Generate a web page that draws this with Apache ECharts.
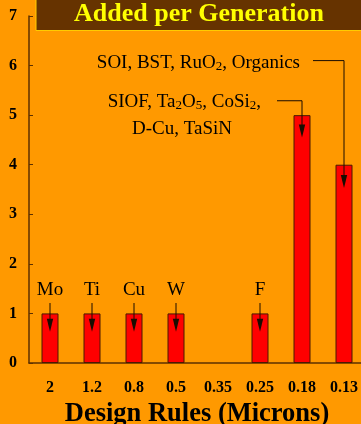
<!DOCTYPE html>
<html><head><meta charset="utf-8">
<script src="https://cdn.jsdelivr.net/npm/echarts@6/dist/echarts.min.js"></script>
<style>html,body{margin:0;padding:0;background:#ff9900;}#c{width:361px;height:424px;}</style>
</head><body><div id="c"></div>
<script>
const categories = ['2','1.2','0.8','0.5','0.35','0.25','0.18','0.13'];
const values = [1,1,1,1,0,1,5,4];
const elementLabels = ['Mo','Ti','Cu','W','','F','',''];
const titleText = 'Added per Generation';
const axisTitle = 'Design Rules (Microns)';
const yMin = 0, yMax = 7, yStep = 1;

const serif = '"Liberation Serif","Times New Roman",serif';
const chart = echarts.init(document.getElementById('c'), null, {renderer:'canvas'});
const axisColor = '#5c3000';
chart.setOption({
  backgroundColor: '#ff9900',
  animation: false,
  grid: {left: 29, right: -4, top: 16, bottom: 61, containLabel: false, outerBoundsMode: 'none'},
  xAxis: {
    type: 'category', data: categories,
    name: axisTitle, nameLocation: 'middle', nameGap: 38,
    nameTextStyle: {fontFamily: serif, fontWeight: 'bold', fontSize: 26.5, color: '#000'},
    axisLine: {lineStyle: {color: axisColor, width: 1.5}},
    axisTick: {inside: true, length: 4, lineStyle: {color: axisColor}},
    axisLabel: {fontFamily: serif, fontWeight: 'bold', fontSize: 16, color: '#000', margin: 17}
  },
  yAxis: {
    type: 'value', min: yMin, max: yMax, interval: yStep,
    axisLine: {show: true, lineStyle: {color: axisColor, width: 1.5}},
    axisTick: {show: true, inside: true, length: 4, lineStyle: {color: axisColor}},
    splitLine: {show: false},
    axisLabel: {fontFamily: serif, fontWeight: 'bold', fontSize: 16, color: '#000', margin: 12}
  },
  series: [{
    type: 'bar', barWidth: 17,
    data: values.map(v => v === 0 ? {value: v, itemStyle: {borderWidth: 0}} : v),
    itemStyle: {color: '#ff0000', borderColor: '#4a1a00', borderWidth: 1}
  }]
});

function px(i, v){ return chart.convertToPixel({seriesIndex:0}, [i, v]); }
const g = [];
const lineCol = '#1a0d00';
function arrow(x, y1, y2){
  g.push({type:'line', shape:{x1:x, y1:y1, x2:x, y2:y2-12}, style:{stroke:lineCol, lineWidth:1}, z:100});
  g.push({type:'polygon', shape:{points:[[x-3.2,y2-13],[x+3.2,y2-13],[x,y2]]}, style:{fill:lineCol}, z:100});
}
const fs = 19;
// short element labels
elementLabels.forEach((lab, i) => {
  if (!lab) return;
  const [cx, ly] = px(i, 1.47);
  g.push({type:'text', x:cx, y:ly, style:{text:lab, font:fs+'px '+serif, fill:'#000', align:'center', verticalAlign:'middle'}, z:100});
  const [, a1] = px(i, 1.21);
  const [, a2] = px(i, 0.63);
  arrow(cx, a1, a2);
});
// long annotation for 0.13
{
  const i = categories.indexOf('0.13');
  const [cx, ty] = px(i, 6.06);
  const [, endY] = px(i, 3.53);
  const sx = cx - 31;
  g.push({type:'polyline', shape:{points:[[sx, ty-2],[cx, ty-2],[cx, endY-12]]}, style:{stroke:lineCol, lineWidth:1, fill:null}, z:100});
  g.push({type:'polygon', shape:{points:[[cx-3.2,endY-13],[cx+3.2,endY-13],[cx,endY]]}, style:{fill:lineCol}, z:100});
  g.push({type:'text', x:sx-13, y:ty, style:{
    text:'SOI, BST, RuO{s|2}, Organics', font:fs+'px '+serif, fill:'#000', align:'right', verticalAlign:'middle',
    rich:{s:{fontSize:13, fontFamily:serif, padding:[7,0,0,0], fill:'#000'}}
  }, z:100});
}
// long annotation for 0.18
{
  const i = categories.indexOf('0.18');
  const [cx, ty] = px(i, 5.27);
  const [, endY] = px(i, 4.55);
  const sx = cx - 25;
  g.push({type:'polyline', shape:{points:[[sx, ty-1],[cx, ty-1],[cx, endY-12]]}, style:{stroke:lineCol, lineWidth:1, fill:null}, z:100});
  g.push({type:'polygon', shape:{points:[[cx-3.2,endY-13],[cx+3.2,endY-13],[cx,endY]]}, style:{fill:lineCol}, z:100});
  g.push({type:'text', x:sx-16, y:ty, style:{
    text:'SIOF, Ta{s|2}O{s|5}, CoSi{s|2},', font:fs+'px '+serif, fill:'#000', align:'right', verticalAlign:'middle',
    rich:{s:{fontSize:13, fontFamily:serif, padding:[7,0,0,0], fill:'#000'}}
  }, z:100});
  const [, t2] = px(i, 4.73);
  g.push({type:'text', x:sx-95, y:t2, style:{text:'D-Cu, TaSiN', font:fs+'px '+serif, fill:'#000', align:'center', verticalAlign:'middle'}, z:100});
}
// title box
g.push({type:'rect', shape:{x:36, y:-2, width:340, height:32.5}, style:{fill:'#663300', stroke:'#ffcc00', lineWidth:1}, z:90});
g.push({type:'text', x:199, y:14, style:{text:titleText, font:'bold 26px '+serif, fill:'#ffff00', align:'center', verticalAlign:'middle'}, z:91});
chart.setOption({graphic: g});
</script></body></html>
